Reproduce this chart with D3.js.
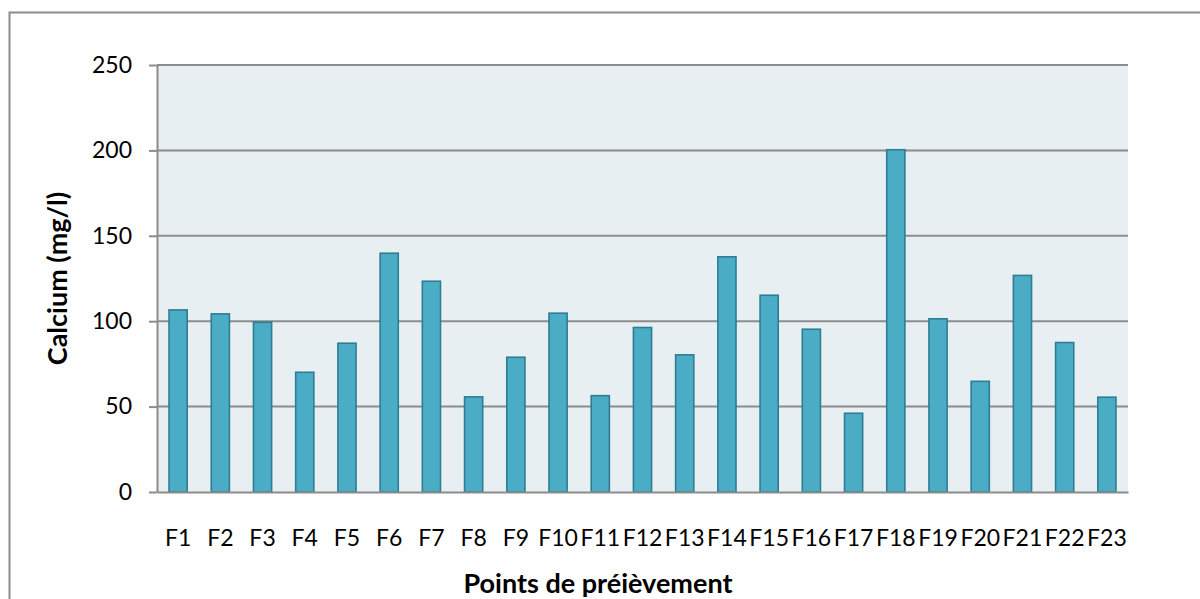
<!DOCTYPE html>
<html>
<head>
<meta charset="utf-8">
<script src="https://cdn.jsdelivr.net/npm/d3@7"></script>
<style>
  html, body { margin: 0; padding: 0; background: #ffffff; }
  svg { display: block; font-family: Lato, "Open Sans", sans-serif; }
</style>
</head>
<body>
<svg id="chart" width="1200" height="599"></svg>
<script>
// Sampling points and their calcium concentrations (mg/l)
const categories = ["F1","F2","F3","F4","F5","F6","F7","F8","F9","F10","F11","F12",
                    "F13","F14","F15","F16","F17","F18","F19","F20","F21","F22","F23"];
const calcium = [106.6, 104.3, 99.4, 70.1, 87.1, 139.8, 123.4, 55.7, 78.9, 104.7, 56.4, 96.3,
                 80.3, 137.7, 115.2, 95.3, 46.1, 200.4, 101.4, 64.8, 126.8, 87.5, 55.5];
const yTicks = [0, 50, 100, 150, 200, 250];
const yTitle = "Calcium (mg/l)";
const xTitle = "Points de préièvement";

const svg = d3.select("#chart");
const margin = { left: 157, right: 72, top: 65, bottom: 107 };
const W = 1200, H = 599;
const plotW = W - margin.left - margin.right;
const plotH = H - margin.top - margin.bottom;

// Outer chart frame (open on the right and bottom edges)
svg.append("path")
  .attr("d", `M9.5,${H} V12.5 H${W}`)
  .attr("fill", "none")
  .attr("stroke", "#8c8c8c")
  .attr("stroke-width", 2);

const g = svg.append("g").attr("transform", `translate(${margin.left},${margin.top})`);

const x = d3.scaleBand()
  .domain(categories)
  .range([0, plotW])
  .paddingInner(0.57)
  .paddingOuter(0.285);

const y = d3.scaleLinear().domain([0, 250]).range([plotH, 0]);

// Plot background
g.append("rect")
  .attr("width", plotW)
  .attr("height", plotH)
  .attr("fill", "#e8eff3");

// Horizontal gridlines
g.append("g")
  .selectAll("line")
  .data(yTicks.filter(d => d > 0))
  .join("line")
  .attr("x1", 0).attr("x2", plotW)
  .attr("y1", d => y(d)).attr("y2", d => y(d))
  .attr("stroke", "#8c8c8c")
  .attr("stroke-width", 2);

// Bars
g.append("g")
  .selectAll("rect")
  .data(categories.map((c, i) => ({ c, v: calcium[i] })))
  .join("rect")
  .attr("x", d => x(d.c))
  .attr("y", d => y(d.v))
  .attr("width", x.bandwidth())
  .attr("height", d => y(0) - y(d.v))
  .attr("fill", "#4bacc6")
  .attr("stroke", "#2e7d92")
  .attr("stroke-width", 1.6);

// Y axis
const yAxis = g.append("g")
  .call(d3.axisLeft(y).tickValues(yTicks).tickSize(8).tickPadding(17).tickSizeOuter(0));
yAxis.select(".domain").attr("stroke", "#8c8c8c").attr("stroke-width", 2);
yAxis.selectAll(".tick line").attr("stroke", "#8c8c8c").attr("stroke-width", 2);
yAxis.selectAll(".tick text")
  .attr("font-size", 23)
  .attr("font-family", "Lato, sans-serif")
  .attr("fill", "#000");

// X axis
const xAxis = g.append("g")
  .attr("transform", `translate(0,${plotH})`)
  .call(d3.axisBottom(x).tickSize(0).tickPadding(0).tickSizeOuter(0));
xAxis.select(".domain").attr("stroke", "#8c8c8c").attr("stroke-width", 2);
xAxis.selectAll(".tick text")
  .attr("font-size", 23)
  .attr("font-family", "Lato, sans-serif")
  .attr("fill", "#000")
  .attr("dy", null)
  .attr("y", 54);

// Axis titles
svg.append("text")
  .attr("transform", `translate(67,${margin.top + plotH / 2}) rotate(-90)`)
  .attr("text-anchor", "middle")
  .attr("font-size", 27)
  .attr("font-weight", "bold")
  .attr("fill", "#000")
  .text(yTitle);

svg.append("text")
  .attr("x", 598)
  .attr("y", 593)
  .attr("text-anchor", "middle")
  .attr("font-size", 27)
  .attr("font-weight", "bold")
  .attr("fill", "#000")
  .text(xTitle);
</script>
</body>
</html>
